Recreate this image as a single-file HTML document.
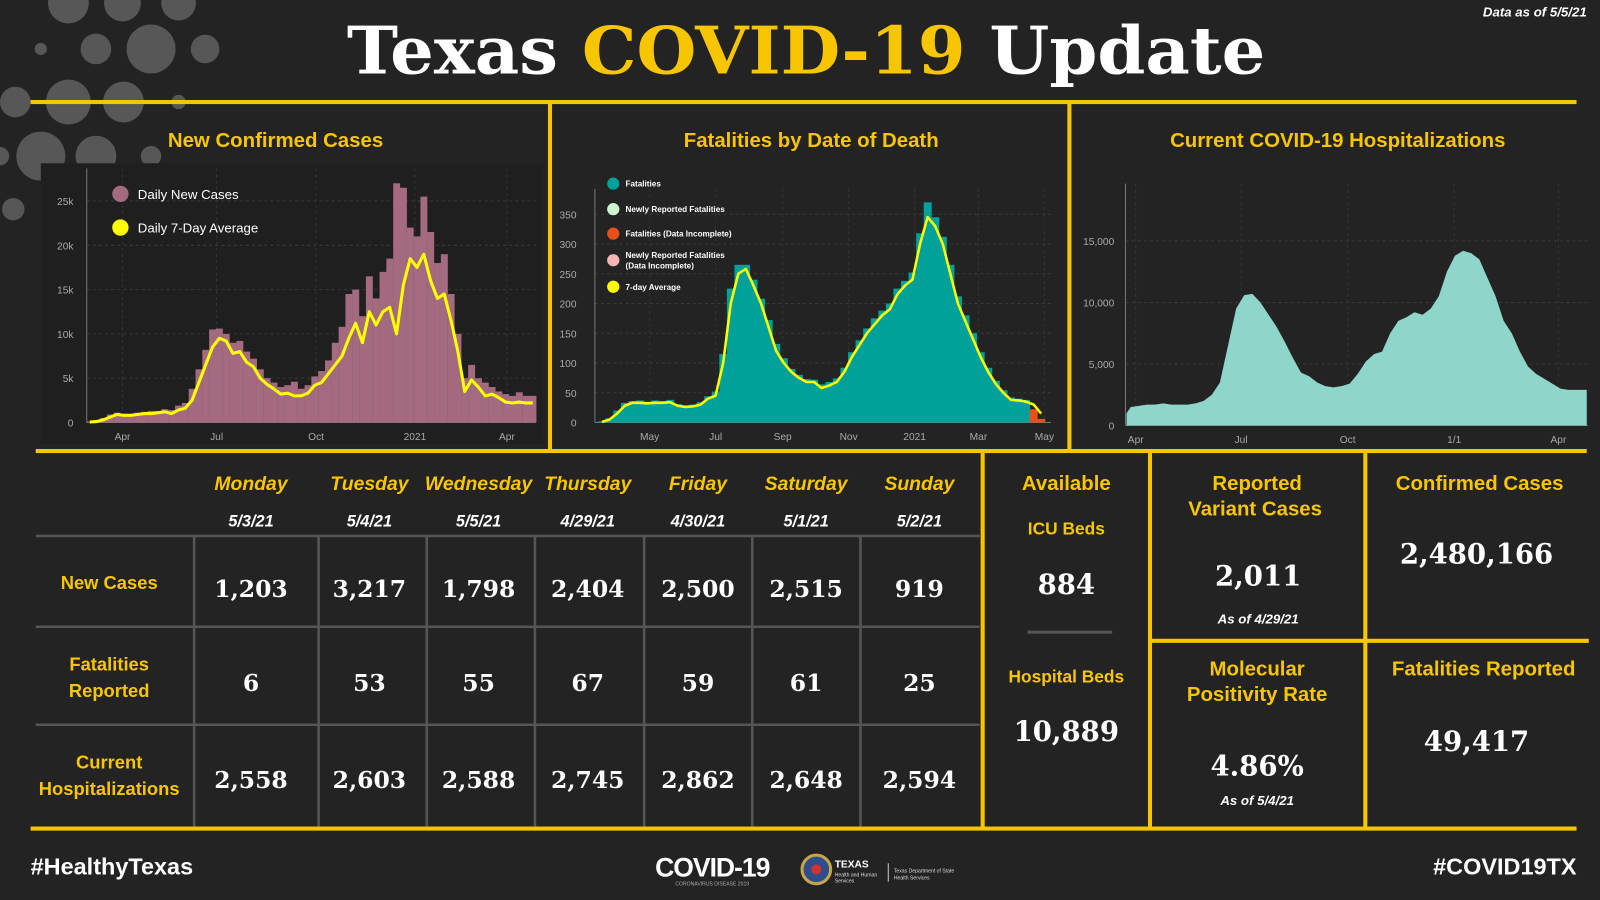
<!DOCTYPE html>
<html><head><meta charset="utf-8">
<style>
html,body{margin:0;padding:0;background:#232323;width:1600px;height:900px;overflow:hidden}
svg{display:block}
.t{font-family:"Liberation Sans",sans-serif}
.y{fill:#f7c600;font-family:"Liberation Sans",sans-serif;font-weight:bold}
.v{fill:#fff;font-family:"DejaVu Serif","Liberation Serif",serif;font-weight:bold}
.tk{fill:#aaa;font-family:"Liberation Sans",sans-serif;font-size:10px}
</style></head><body>
<svg id="root" width="1600" height="900" viewBox="0 0 1568 882" xmlns="http://www.w3.org/2000/svg">
<rect width="1568" height="882" fill="#232323"/>
<g id="bubbles" fill="#575757">
<circle cx="67" cy="3" r="20"/><circle cx="120" cy="3" r="18"/><circle cx="175" cy="3" r="17"/>
<circle cx="40" cy="48" r="6"/><circle cx="94" cy="48" r="15"/><circle cx="148" cy="48" r="24"/><circle cx="201" cy="48" r="14"/>
<circle cx="15" cy="100" r="15"/><circle cx="67" cy="100" r="22"/><circle cx="121" cy="100" r="20"/><circle cx="175" cy="100" r="7"/>
<circle cx="0" cy="153" r="9"/><circle cx="40" cy="153" r="24"/><circle cx="94" cy="153" r="20"/><circle cx="148" cy="153" r="10"/>
<circle cx="13" cy="205" r="11"/>
</g>
<text x="340" y="72" textLength="900" lengthAdjust="spacingAndGlyphs" style="font-family:'DejaVu Serif','Liberation Serif',serif;font-weight:bold;font-size:64px"><tspan fill="#fff">Texas </tspan><tspan fill="#f7c600">COVID-19</tspan><tspan fill="#fff"> Update</tspan></text>
<text x="1555" y="16" text-anchor="end" class="t" fill="#fff" font-size="13" font-style="italic" font-weight="bold">Data as of 5/5/21</text>

<g fill="#f7c600">
<rect x="30" y="98" width="1515" height="4"/>
<rect x="537" y="100" width="4" height="342"/>
<rect x="1046" y="100" width="4" height="342"/>
<rect x="35" y="440" width="1520" height="4"/>
<rect x="961" y="444" width="4" height="368"/>
<rect x="1125" y="444" width="4" height="368"/>
<rect x="1336" y="444" width="4" height="368"/>
<rect x="1127" y="626" width="430" height="4"/>
<rect x="30" y="810" width="1515" height="4"/>
</g>

<rect x="40" y="160" width="492" height="275" fill="#1f1f1f"/>
<text x="270" y="144" text-anchor="middle" class="y" font-size="20">New Confirmed Cases</text>
<text x="795" y="144" text-anchor="middle" class="y" font-size="20">Fatalities by Date of Death</text>
<text x="1311" y="144" text-anchor="middle" class="y" font-size="20">Current COVID-19 Hospitalizations</text>

<g id="c1"></g>
<g id="c2"></g>
<g id="c3"></g>
<g id="tbl"></g>

<g>
<text x="1045" y="480" text-anchor="middle" class="y" font-size="20">Available</text>
<text x="1045" y="524" text-anchor="middle" class="y" font-size="17">ICU Beds</text>
<text x="1045" y="582" text-anchor="middle" class="v" font-size="27">884</text>
<rect x="1007" y="618" width="83" height="3" fill="#555"/>
<text x="1045" y="669" text-anchor="middle" class="y" font-size="17">Hospital Beds</text>
<text x="1045" y="726" text-anchor="middle" class="v" font-size="27">10,889</text>
</g>
<g>
<text x="1232" y="480" text-anchor="middle" class="y" font-size="20">Reported</text>
<text x="1230" y="505" text-anchor="middle" class="y" font-size="20">Variant Cases</text>
<text x="1233" y="574" text-anchor="middle" class="v" font-size="27">2,011</text>
<text x="1233" y="611" text-anchor="middle" class="t" fill="#fff" font-size="13" font-style="italic" font-weight="bold">As of 4/29/21</text>
</g>
<g>
<text x="1450" y="480" text-anchor="middle" class="y" font-size="20">Confirmed Cases</text>
<text x="1447" y="552" text-anchor="middle" class="v" font-size="27">2,480,166</text>
</g>
<g>
<text x="1232" y="662" text-anchor="middle" class="y" font-size="20">Molecular</text>
<text x="1232" y="687" text-anchor="middle" class="y" font-size="20">Positivity Rate</text>
<text x="1232" y="760" text-anchor="middle" class="v" font-size="27">4.86%</text>
<text x="1232" y="789" text-anchor="middle" class="t" fill="#fff" font-size="13" font-style="italic" font-weight="bold">As of 5/4/21</text>
</g>
<g>
<text x="1454" y="662" text-anchor="middle" class="y" font-size="20">Fatalities Reported</text>
<text x="1447" y="736" text-anchor="middle" class="v" font-size="27">49,417</text>
</g>

<text x="30" y="857" class="t" fill="#fff" font-size="23" font-weight="bold">#HealthyTexas</text>
<text x="1545" y="857" text-anchor="end" class="t" fill="#fff" font-size="23" font-weight="bold">#COVID19TX</text>
<g>
<text x="698" y="859" text-anchor="middle" class="t" fill="#fff" font-size="26" font-weight="bold" letter-spacing="-1">COVID-19</text>
<text x="698" y="868" text-anchor="middle" class="t" fill="#aaa" font-size="5">CORONAVIRUS DISEASE 2019</text>
</g>
<g>
<circle cx="800" cy="852" r="14" fill="#2d4e8a" stroke="#c9a54a" stroke-width="3"/>
<circle cx="800" cy="852" r="5" fill="#c33"/>
<text x="818" y="850" class="t" fill="#fff" font-size="10" font-weight="bold">TEXAS</text>
<text x="818" y="859" class="t" fill="#ddd" font-size="5">Health and Human</text>
<text x="818" y="865" class="t" fill="#ddd" font-size="5">Services</text>
<rect x="870" y="846" width="1" height="18" fill="#ccc"/>
<text x="876" y="855" class="t" fill="#ddd" font-size="5">Texas Department of State</text>
<text x="876" y="862" class="t" fill="#ddd" font-size="5">Health Services</text>
</g>
</svg>
<script>
// ---------- Chart 1 data: weekly (index = week number) ----------
const casesAvg = [0.05,0.1,0.3,0.6, 0.9,0.8,0.8,0.9, 1.0,1.0,1.1,1.2,1.0, 1.4,1.6,2.5,4.5, 6.5,8.5,9.5,9.2, 7.8,8.0,6.8,6.3,5.0, 4.3,3.8,3.2,3.3,3.0, 3.0,3.3,4.2,4.5,5.5, 6.5,7.5,9.5,11.2,9.0, 12.5,11.0,12.5,13.0,10.0, 15.5,18.5,17.5,19.0,16.0,14.0, 14.5,11.5,8.0,3.5, 4.8,4.0,3.0,3.2,2.8, 2.3,2.2,2.3,2.2,2.2];
const casesDaily = [0.1,0.2,0.5,0.9, 1.1,1.0,1.0,1.1, 1.2,1.3,1.3,1.5,1.4, 1.9,2.2,3.8,6.0, 8.2,10.5,10.6,10.0, 9.0,9.2,8.0,7.2,6.0, 5.0,4.5,4.0,4.2,4.6, 3.8,4.2,5.2,5.8,7.0, 9.0,10.8,14.5,15.0,12.0, 16.5,14.0,17.0,18.5,27.0, 26.5,22.0,21.0,25.5,21.5,18.0, 19.0,14.5,10.0,5.0, 6.5,5.0,4.5,4.0,3.5, 3.2,3.0,3.4,3.0,3.0];
const casesYTicks = [0,5,10,15,20,25];
const casesYLabels = ["0","5k","10k","15k","20k","25k"];
const casesXTicks = [4.8,18.6,33.2,47.7,61.2];
const casesXLabels = ["Apr","Jul","Oct","2021","Apr"];
// ---------- Chart 2 data: weekly, starting 2020-03-18 ----------
const deathsAvg = [1,5,15,28,33,33,32,33,33,34,28,26,27,30,40,45,100,200,250,258,230,200,160,120,100,85,75,68,68,58,62,68,85,110,130,150,165,180,190,215,230,240,300,345,330,300,250,200,170,140,110,85,65,50,38,37,35,30,15];
const deathsDaily = [2,7,20,33,36,37,35,37,36,38,31,29,30,34,44,52,115,225,265,265,240,208,172,132,108,90,80,73,72,64,68,74,92,118,138,158,175,188,200,225,238,252,318,370,345,312,265,212,180,150,118,92,70,54,42,40,38,22,6];
const deathsIncomplete = [false,false,false,false,false,false,false,false,false,false,false,false,false,false,false,false,false,false,false,false,false,false,false,false,false,false,false,false,false,false,false,false,false,false,false,false,false,false,false,false,false,false,false,false,false,false,false,false,false,false,false,false,false,false,false,false,false,true,true];
const deathsYTicks = [0,50,100,150,200,250,300,350];
const deathsXTicks = [44,105,167,228,289,348,409];
const deathsXLabels = ["May","Jul","Sep","Nov","2021","Mar","May"];
// ---------- Chart 3 data: weekly, starting 2020-03-26 (thousands) ----------
const hosp = [1.0,1.5,1.6,1.7,1.7,1.8,1.7,1.7,1.7,1.8,2.0,2.5,3.5,6.5,9.5,10.6,10.7,10.0,9.0,8.0,6.8,5.5,4.3,4.0,3.5,3.2,3.1,3.2,3.4,4.2,5.2,5.8,6.0,7.5,8.5,8.8,9.2,9.0,9.5,10.5,12.5,13.8,14.2,14.0,13.5,12.0,10.5,8.5,7.5,6.0,4.8,4.2,3.8,3.4,3.0,2.9,2.9,2.9];
const hospYTicks = [0,5,10,15];
const hospYLabels = ["0","5,000","10,000","15,000"];
const hospXTicks = [6,97,189,281,371];
const hospXLabels = ["Apr","Jul","Oct","1/1","Apr"];
// ---------- Table data ----------
const days = ["Monday","Tuesday","Wednesday","Thursday","Friday","Saturday","Sunday"];
const dates = ["5/3/21","5/4/21","5/5/21","4/29/21","4/30/21","5/1/21","5/2/21"];
const newCases = ["1,203","3,217","1,798","2,404","2,500","2,515","919"];
const fatalities = ["6","53","55","67","59","61","25"];
const hospitalizations = ["2,558","2,603","2,588","2,745","2,862","2,648","2,594"];

const NS="http://www.w3.org/2000/svg";
function mk(parent,tag,attrs,txt){const e=document.createElementNS(NS,tag);for(const k in attrs)e.setAttribute(k,attrs[k]);if(txt!==undefined)e.textContent=txt;parent.appendChild(e);return e;}

function axes(g,xs,ys,yTicks,yLabels,xTicks,xLabels,axX,top,bot,right,labX){
  yTicks.forEach((v,i)=>{
    const l=mk(g,'line',{x1:axX,x2:right,y1:ys(v),y2:ys(v),stroke:'#3a3a3a','stroke-dasharray':'3,3'});
    
    
    const t=mk(g,'text',{x:labX,y:ys(v)+4,'text-anchor':'end',class:'tk'},yLabels[i]);
    
    
  });
  xTicks.forEach((d,i)=>{
    mk(g,'line',{x1:xs(d),x2:xs(d),y1:top,y2:bot,stroke:'#333','stroke-dasharray':'3,3'});
    const t=mk(g,'text',{x:xs(d),y:bot+17,'text-anchor':'middle',class:'tk'},xLabels[i]);
    
    
  });
  mk(g,'line',{x1:axX,x2:axX,y1:top,y2:bot,stroke:'#777'});
  mk(g,'line',{x1:axX,x2:right,y1:bot,y2:bot,stroke:'#777'});
}

// Chart 1
(function(){
  const g=document.getElementById('c1');
  const xs=i=>88+i*6.68, ys=v=>414-v*8.68;
  axes(g,xs,ys,casesYTicks,casesYLabels,casesXTicks,casesXLabels,85,165,414,525,72);
  casesDaily.forEach((v,i)=>{
    const b=mk(g,'rect',{x:xs(i)-3.3,y:ys(v),width:6.8,height:414-ys(v),fill:'#a36a80'});
    
    
  });
  const p=mk(g,'polyline',{points:casesAvg.map((v,i)=>xs(i)+','+ys(v)).join(' '),fill:'none',stroke:'#ffff00','stroke-width':3,'stroke-linejoin':'round'});
  
  
  const l1=mk(g,'circle',{cx:118,cy:190,r:8,fill:'#a36a80'});
  
  
  mk(g,'text',{x:135,y:195,class:'t',fill:'#fff','font-size':13},'Daily New Cases');
  const l2=mk(g,'circle',{cx:118,cy:223,r:8,fill:'#ffff00'});
  
  
  mk(g,'text',{x:135,y:228,class:'t',fill:'#fff','font-size':13},'Daily 7-Day Average');
})();

// Chart 2
(function(){
  const g=document.getElementById('c2');
  const xs=d=>590+d*1.06, ys=v=>414-v*0.583;
  axes(g,xs,ys,deathsYTicks,deathsYTicks.map(String),deathsXTicks,deathsXLabels.map(s=>s),583,185,414,1030,565);
  deathsDaily.forEach((v,i)=>{
    const b=mk(g,'rect',{x:xs(i*7)-3.8,y:ys(v),width:7.8,height:414-ys(v),fill:deathsIncomplete[i]?'#e8501a':'#00a19a'});
    
    
  });
  const p=mk(g,'polyline',{points:deathsAvg.map((v,i)=>xs(i*7)+','+ys(v)).join(' '),fill:'none',stroke:'#ffff00','stroke-width':2.5,'stroke-linejoin':'round'});
  
  
  const leg=[[180,'#00a19a',['Fatalities']],[205,'#ccf5cc',['Newly Reported Fatalities']],[229,'#e8501a',['Fatalities (Data Incomplete)']],[255,'#f5b5b5',['Newly Reported Fatalities','(Data Incomplete)']],[281,'#ffff00',['7-day Average']]];
  leg.forEach(L=>{
    const c=mk(g,'circle',{cx:601,cy:L[0],r:6,fill:L[1]});
    
    
    L[2].forEach((s,j)=>mk(g,'text',{x:613,y:L[0]+3+(L[2].length>1?(j*10-5):0),class:'t',fill:'#fff','font-size':8,'font-weight':'bold'},s));
  });
})();

// Chart 3
(function(){
  const g=document.getElementById('c3');
  const xs=d=>1107+(d-6)*1.135, ys=v=>417-v*12.06;
  const xt=d=>1113+(d-6)*1.135;
  axes(g,xt,ys,hospYTicks,hospYLabels,hospXTicks,hospXLabels,1103,180,417,1556,1092);
  let pts=[Math.max(xs(0),1104)+','+417];
  hosp.forEach((v,i)=>pts.push(Math.min(Math.max(xs(i*7),1104),1555)+','+ys(v)));
  pts.push(1555+','+ys(hosp[hosp.length-1]));
  pts.push(1555+','+417);
  const a=mk(g,'polygon',{points:pts.join(' '),fill:'#8fd6ca'});
  
  
})();

// Table
(function(){
  const g=document.getElementById('tbl');
  const cx=[246,362,469,576,684,790,901];
  [190,312,418,524,631,737,843].forEach(x=>mk(g,'rect',{x:x-1,y:525,width:2.5,height:285,fill:'#555'}));
  [525,614,710].forEach(y=>mk(g,'rect',{x:35,y:y-1,width:925,height:2.5,fill:'#555'}));
  days.forEach((d,i)=>{
    const t=mk(g,'text',{x:cx[i],y:480,'text-anchor':'middle',class:'y','font-size':19,'font-style':'italic'},d);
    
    
    mk(g,'text',{x:cx[i],y:516,'text-anchor':'middle',class:'t',fill:'#fff','font-size':16,'font-style':'italic','font-weight':'bold'},dates[i]);
    [[newCases,585],[fatalities,677],[hospitalizations,772]].forEach(r=>{
      const v=mk(g,'text',{x:cx[i],y:r[1],'text-anchor':'middle',class:'v','font-size':23},r[0][i]);
      
      
    });
  });
  [['New Cases',577],['Fatalities',657],['Reported',683],['Current',753],['Hospitalizations',779]].forEach(r=>{
    const t=mk(g,'text',{x:107,y:r[1],'text-anchor':'middle',class:'y','font-size':18},r[0]);
    
    
  });
})();
</script>
</body></html>
